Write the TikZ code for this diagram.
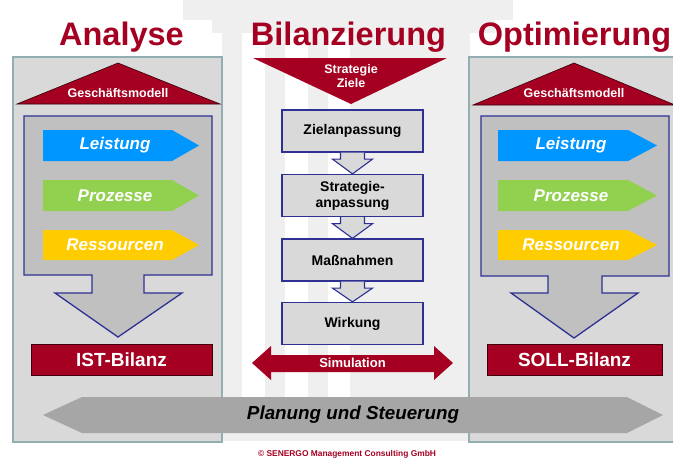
\documentclass[tikz,border=0pt]{standalone}
\usepackage{fontspec}
\setmainfont{Liberation Sans}
\usetikzlibrary{calc}
\definecolor{dred}{HTML}{A50021}
\definecolor{panelgray}{HTML}{D9D9D9}
\definecolor{panelline}{HTML}{93AEB3}
\definecolor{navy}{HTML}{2E3192}
\definecolor{midgray}{HTML}{C0C0C0}
\definecolor{bggray}{HTML}{EFEFEF}
\definecolor{lblue}{HTML}{0096FF}
\definecolor{lgreen}{HTML}{92D050}
\definecolor{lyellow}{HTML}{FFCC00}
\definecolor{pgray}{HTML}{A6A6A6}
\newcommand\myfs[1]{\fontsize{#1}{#1}\selectfont}
\tikzset{
  titletext/.style={font=\myfs{32.5}\bfseries, text=dred, anchor=base, inner sep=0pt},
  panelbox/.style={draw=panelline, fill=panelgray, line width=1.3pt, inner sep=0pt},
  roof/.style={fill=dred, draw=black!70!dred, line width=0.6pt},
  rooftext/.style={font=\myfs{12.5}\bfseries, text=white, inner sep=0pt},
  bigarrow/.style={fill=midgray, draw=navy, line width=1.3pt, line join=miter},
  colarrowtext/.style={font=\myfs{17}\bfseries\itshape, text=white, inner sep=0pt},
  bilanzbox/.style={fill=dred, draw=black!60!dred, line width=1pt, font=\myfs{19}\bfseries, text=white, inner sep=0pt},
  stepbox/.style={fill=panelgray, draw=navy, line width=1.3pt, minimum width=141pt, minimum height=42pt, font=\myfs{14}\bfseries, align=center, inner sep=0pt},
  smallarr/.style={fill=panelgray, draw=navy, line width=1.1pt, line join=miter},
}
\begin{document}
\begin{tikzpicture}[x=1pt,y=-1pt]
\useasboundingbox (0,0) rectangle (673,459);
% background temple
\fill[bggray] (183,0) rectangle (513,20);
\fill[bggray] (212,20) rectangle (495,33);
\fill[bggray] (222,33) rectangle (470,430);
\fill[white] (242,33) rectangle (265,430);
\fill[white] (285,33) rectangle (308,430);
\fill[white] (328,33) rectangle (350,430);
\fill[bggray] (185,430) rectangle (513,441);
% titles
\node[titletext] (t1) at (121.5,45) {Analyse};
\node[titletext] (t2) at (348.5,45) {Bilanzierung};
\node[titletext] (t3) at (574.5,45) {Optimierung};
% panels
\node[panelbox, minimum width=209pt, minimum height=385pt] (lp) at (117.5,249.5) {};
\node[panelbox, minimum width=206pt, minimum height=385pt] (rp) at (572,249.5) {};
% left roof
\draw[roof] (17,104) -- (118,63) -- (220,104) -- cycle;
\node[rooftext] (gm1) at (118,93) {Geschäftsmodell};
% left big arrow
\draw[bigarrow] (24,116) -- (212,116) -- (212,275) -- (144,275) -- (144,293) -- (182,293) -- (118,337) -- (55,293) -- (92,293) -- (92,275) -- (24,275) -- cycle;
\fill[lblue] (43,130) -- (172,130) -- (199,145.5) -- (172,161) -- (43,161) -- cycle;
\node[colarrowtext] (l1) at (115,145.5) {Leistung};
\fill[lgreen] (43,180) -- (172,180) -- (199,195.5) -- (172,211) -- (43,211) -- cycle;
\node[colarrowtext] (l2) at (115,195.5) {Prozesse};
\fill[lyellow] (43,230) -- (172,230) -- (199,245) -- (172,260) -- (43,260) -- cycle;
\node[colarrowtext] (l3) at (115,245) {Ressourcen};
\node[bilanzbox, minimum width=181pt, minimum height=31pt] (ist) at (121.5,359.5) {IST-Bilanz};
% right roof
\draw[roof] (473,105) -- (574,63) -- (675,105) -- cycle;
\node[rooftext] (gm2) at (574,93) {Geschäftsmodell};
\draw[bigarrow] (481,116) -- (669,116) -- (669,276) -- (602,276) -- (602,293) -- (638,293) -- (574,338) -- (511,293) -- (548,293) -- (548,276) -- (481,276) -- cycle;
\fill[lblue] (498,130) -- (628,130) -- (657,145.5) -- (628,161) -- (498,161) -- cycle;
\node[colarrowtext] (r1) at (571,145.5) {Leistung};
\fill[lgreen] (498,180) -- (628,180) -- (657,195.5) -- (628,211) -- (498,211) -- cycle;
\node[colarrowtext] (r2) at (571,195.5) {Prozesse};
\fill[lyellow] (498,230) -- (628,230) -- (657,245) -- (628,260) -- (498,260) -- cycle;
\node[colarrowtext] (r3) at (571,245) {Ressourcen};
\node[bilanzbox, minimum width=175pt, minimum height=31pt] (soll) at (574.5,359.5) {SOLL-Bilanz};
% middle
\fill[dred] (253,58) -- (447,58) -- (351,104) -- cycle;
\node[rooftext, align=center, font=\myfs{12.5}\bfseries] (sz) at (351,76) {Strategie\\[1pt]Ziele};
\node[stepbox] (z1) at (352.5,131) {Zielanpassung};
\node[stepbox] (z2) at (352.5,195.5) {Strategie-\\[2pt]anpassung};
\node[stepbox] (z3) at (352.5,260) {Maßnahmen};
\node[stepbox] (z4) at (352.5,323.5) {Wirkung};
\foreach \a/\b in {z1/z2,z2/z3,z3/z4}{
  \draw[smallarr] ($(\a.south)+(-12,0)$) -- ($(\a.south)+(-12,6.5)$) -- ($(\a.south)+(-20,6.5)$) -- (\b.north) -- ($(\a.south)+(20,6.5)$) -- ($(\a.south)+(12,6.5)$) -- ($(\a.south)+(12,0)$);
}
\fill[dred] (252,363) -- (271,346) -- (271,355) -- (434,355) -- (434,346) -- (453,363) -- (434,380) -- (434,372) -- (271,372) -- (271,380) -- cycle;
\node[rooftext, font=\myfs{13}\bfseries] (sim) at (352.5,363) {Simulation};
% Planung und Steuerung
\fill[pgray] (43,415) -- (82,397) -- (627,397) -- (663,415) -- (627,433) -- (82,433) -- cycle;
\node[font=\myfs{18.8}\bfseries\itshape, inner sep=0pt] (pus) at (353,415) {Planung und Steuerung};
\node[font=\myfs{8.4}\bfseries, text=dred, inner sep=0pt] (copy) at (347,454.5) {© SENERGO Management Consulting GmbH};
\end{tikzpicture}
\end{document}
